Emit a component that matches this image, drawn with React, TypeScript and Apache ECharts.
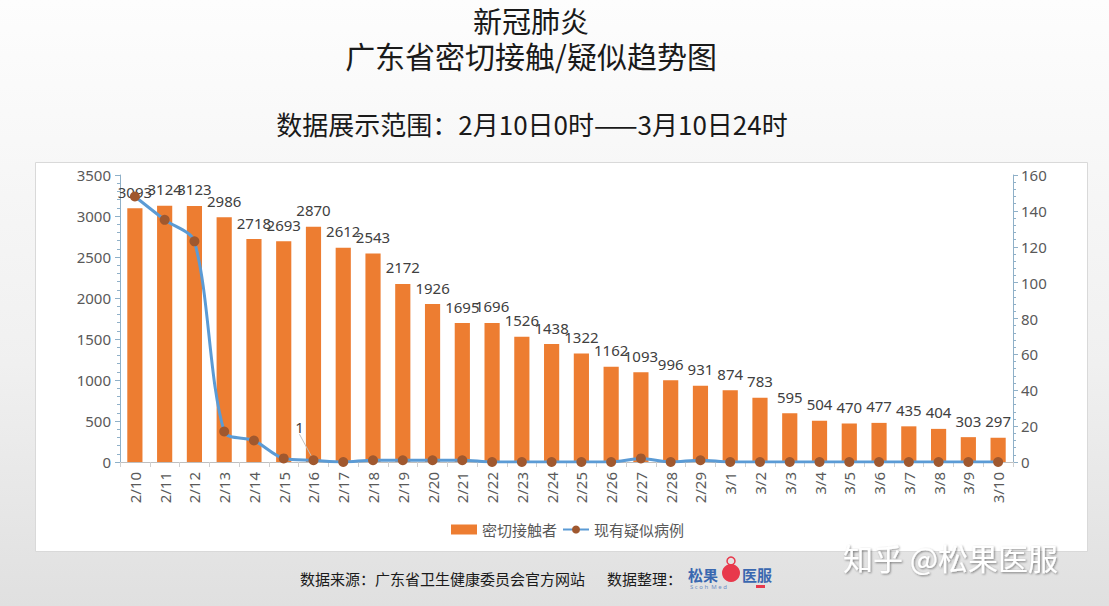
import React, { useEffect, useRef } from "react";
import * as echarts from "echarts";

const categories = [
  "2/10", "2/11", "2/12", "2/13", "2/14", "2/15", "2/16", "2/17", "2/18", "2/19",
  "2/20", "2/21", "2/22", "2/23", "2/24", "2/25", "2/26", "2/27", "2/28", "2/29",
  "3/1", "3/2", "3/3", "3/4", "3/5", "3/6", "3/7", "3/8", "3/9", "3/10",
];
const closeContacts = [
  3093, 3124, 3123, 2986, 2718, 2693, 2870, 2612, 2543, 2172,
  1926, 1695, 1696, 1526, 1438, 1322, 1162, 1093, 996, 931,
  874, 783, 595, 504, 470, 477, 435, 404, 303, 297,
];
const suspected = [
  148, 135, 123, 17, 12, 2, 1, 0, 1, 1,
  1, 1, 0, 0, 0, 0, 0, 2, 0, 1,
  0, 0, 0, 0, 0, 0, 0, 0, 0, 0,
];
const leftTicks = { min: 0, max: 3500, interval: 500 };
const rightTicks = { min: 0, max: 160, interval: 20 };
const labelledSuspectedIndex = 6;

const FONT = "'Noto Sans', 'Noto Sans CJK SC', sans-serif";
const CJK = "'Noto Sans CJK SC', 'Noto Sans', sans-serif";

export default function App() {
  const ref = useRef<HTMLDivElement>(null);
  useEffect(() => {
    document.body.style.margin = "0";
    if (!ref.current) return;
    const chart = echarts.init(ref.current, null, { renderer: "svg" });
    const axisColor = "#8fb0c8";
    chart.setOption({
      animation: false,
      backgroundColor: {
        type: "linear", x: 0, y: 0, x2: 0, y2: 1,
        colorStops: [
          { offset: 0, color: "#fdfdfd" },
          { offset: 0.6, color: "#f0f0f0" },
          { offset: 1, color: "#e0e0e0" },
        ],
      },
      textStyle: { fontFamily: FONT },
      graphic: [
        {
          type: "rect", z: -10, silent: true,
          shape: { x: 35.5, y: 162.5, width: 1052, height: 389 },
          style: { fill: "#ffffff", stroke: "#d9d9d9", lineWidth: 1 },
        },
        {
          type: "text", x: 531, y: 20,
          style: { text: "新冠肺炎", font: `29px ${CJK}`, fill: "#1a1a1a", align: "center", verticalAlign: "middle" },
        },
        {
          type: "text", x: 531, y: 55,
          style: { text: "广东省密切接触/疑似趋势图", font: `30px ${CJK}`, fill: "#1a1a1a", align: "center", verticalAlign: "middle" },
        },
        {
          type: "text", x: 532, y: 123,
          style: { text: "数据展示范围：2月10日0时——3月10日24时", font: `26px ${CJK}`, fill: "#1a1a1a", align: "center", verticalAlign: "middle" },
        },
        {
          type: "text", x: 300, y: 578,
          style: { text: "数据来源：广东省卫生健康委员会官方网站", font: `15px ${CJK}`, fill: "#1a1a1a", align: "left", verticalAlign: "middle" },
        },
        {
          type: "text", x: 607, y: 578,
          style: { text: "数据整理：", font: `15px ${CJK}`, fill: "#1a1a1a", align: "left", verticalAlign: "middle" },
        },
        {
          type: "text", x: 688, y: 574,
          style: { text: "松果", font: `bold 15px ${CJK}`, fill: "#3a68b0", align: "left", verticalAlign: "middle" },
        },
        {
          type: "circle", shape: { cx: 731, cy: 573, r: 9 },
          style: { fill: "#e8394c" },
        },
        {
          type: "circle", shape: { cx: 731, cy: 561, r: 4 },
          style: { fill: "none", stroke: "#e8394c", lineWidth: 1.5 },
        },
        {
          type: "text", x: 742, y: 574,
          style: { text: "医服", font: `bold 15px ${CJK}`, fill: "#3a68b0", align: "left", verticalAlign: "middle" },
        },
        {
          type: "text", x: 690, y: 587,
          style: { text: "S c o h  M e d", font: `6px ${FONT}`, fill: "#6d8fc4", align: "left", verticalAlign: "middle" },
        },
        {
          type: "rect", shape: { x: 756, y: 585, width: 9, height: 3 },
          style: { fill: "#e8394c" },
        },
        {
          type: "text", x: 843, y: 557,
          style: {
            text: "知乎 @松果医服", font: `30px ${CJK}`, fill: "#ffffff", align: "left", verticalAlign: "middle",
            textShadowColor: "rgba(0,0,0,0.45)", textShadowBlur: 2, textShadowOffsetX: 1, textShadowOffsetY: 1,
          },
        },
      ],
      legend: {
        left: 446, top: 517,
        itemWidth: 26, itemHeight: 10, itemGap: 5,
        textStyle: { fontSize: 15, color: "#595959", fontFamily: CJK },
        data: [
          { name: "密切接触者", icon: "rect" },
          { name: "现有疑似病例" },
        ],
      },
      grid: { left: 120, right: 96, top: 175, bottom: 144, containLabel: false },
      xAxis: {
        type: "category",
        data: categories,
        axisLine: { lineStyle: { color: "#bfbfbf" } },
        axisTick: { show: true, alignWithLabel: false, lineStyle: { color: "#d0d0d0" } },
        axisLabel: { rotate: 90, fontSize: 15, color: "#595959", margin: 10, interval: 0 },
      },
      yAxis: [
        {
          type: "value", ...leftTicks,
          axisLine: { show: true, lineStyle: { color: axisColor } },
          axisTick: { show: true, length: 5, lineStyle: { color: axisColor } },
          minorTick: { show: true, splitNumber: 5, length: 3, lineStyle: { color: axisColor } },
          splitLine: { show: false },
          axisLabel: { fontSize: 15, color: "#595959", margin: 9, formatter: (v: number) => String(v) },
        },
        {
          type: "value", ...rightTicks,
          axisLine: { show: true, lineStyle: { color: axisColor } },
          axisTick: { show: true, length: 5, lineStyle: { color: axisColor } },
          minorTick: { show: true, splitNumber: 5, length: 3, lineStyle: { color: axisColor } },
          splitLine: { show: false },
          axisLabel: { fontSize: 15, color: "#595959", margin: 8, formatter: (v: number) => String(v) },
        },
      ],
      series: [
        {
          name: "密切接触者",
          type: "bar",
          data: closeContacts,
          barWidth: "51%",
          itemStyle: { color: "#ED7D31" },
          label: { show: true, position: "top", distance: 9, fontSize: 15, color: "#404040", fontFamily: FONT },
          z: 2,
        },
        {
          name: "现有疑似病例",
          type: "line",
          yAxisIndex: 1,
          data: suspected.map((v, i) =>
            i === labelledSuspectedIndex
              ? { value: v, label: { show: true, fontSize: 15, color: "#404040", position: "top" }, labelLine: { show: true, lineStyle: { color: "#bfbfbf", width: 1 } } }
              : v
          ),
          smooth: 0.3,
          symbol: "circle",
          symbolSize: 10,
          lineStyle: { color: "#5B9BD5", width: 3 },
          itemStyle: { color: "#A0582E" },
          labelLayout: (p: any) => (p.dataIndex === labelledSuspectedIndex ? { dx: -14, dy: -16 } : {}),
          z: 3,
        },
      ],
    });
    return () => chart.dispose();
  }, []);
  return <div ref={ref} style={{ width: 1109, height: 606 }} />;
}
